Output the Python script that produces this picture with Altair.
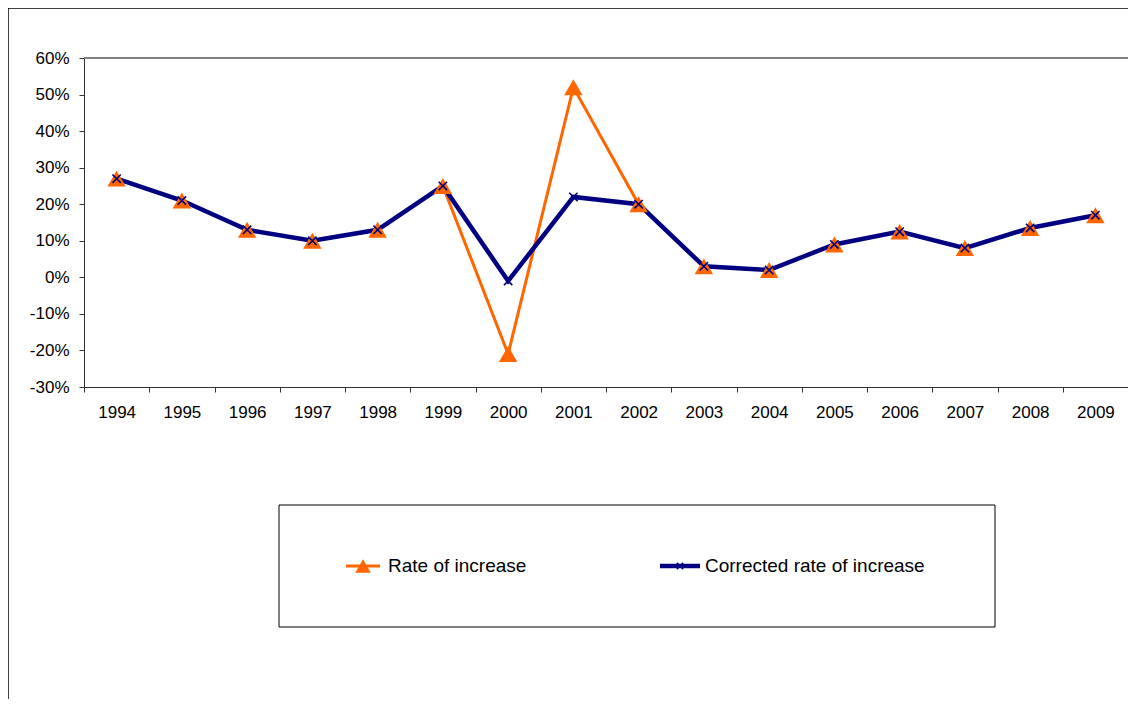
import altair as alt
import pandas as pd

years = [str(y) for y in range(1994, 2010)]
rate = [0.27, 0.21, 0.13, 0.10, 0.13, 0.25, -0.21, 0.52, 0.20, 0.03, 0.02, 0.09, 0.125, 0.08, 0.135, 0.17]
corrected = [0.27, 0.21, 0.13, 0.10, 0.13, 0.25, -0.01, 0.22, 0.20, 0.03, 0.02, 0.09, 0.125, 0.08, 0.135, 0.17]
series_names = ["Rate of increase", "Corrected rate of increase"]
y_ticks = [-0.3, -0.2, -0.1, 0.0, 0.1, 0.2, 0.3, 0.4, 0.5, 0.6]

ORANGE = "#FF6600"
NAVY = "#000080"
FONT = "Liberation Sans"
W, H = 1044, 329
BAND = W / len(years)

df_rate = pd.DataFrame({"year": years, "value": rate, "series": series_names[0]})
df_corr = pd.DataFrame({"year": years, "value": corrected, "series": series_names[1]})

x_enc = alt.X(
    "year:N",
    scale=alt.Scale(type="band", domain=years, paddingInner=0, paddingOuter=0),
    axis=alt.Axis(
        title=None, domainColor="#333333", tickColor="#333333", tickSize=5,
        tickOffset=-BAND / 2, labelOffset=BAND / 2, labelPadding=12,
        labelFont=FONT, labelFontSize=17, labelColor="#000000", labelAngle=0,
        grid=False,
    ),
)
y_scale = alt.Scale(domain=[-0.3, 0.6], nice=False, zero=False)
y_enc = alt.Y(
    "value:Q",
    scale=y_scale,
    axis=alt.Axis(
        title=None, values=y_ticks,
        labelExpr="(datum.value < -0.0001 ? '-' : '') + format(abs(datum.value), '.0%')",
        domainColor="#333333",
        tickColor="#333333", tickSize=5, labelPadding=10, labelFont=FONT,
        labelFontSize=17, labelColor="#000000", grid=False,
    ),
)

CROSS = "M-1,-1L1,1M-1,1L1,-1"

top_line = alt.Chart(pd.DataFrame({"value": [y_ticks[-1]]})).mark_rule(
    color="#808080", strokeWidth=2
).encode(y=y_enc, x=alt.value(0), x2=alt.value(W))

rate_line = alt.Chart(df_rate).mark_line(color=ORANGE, strokeWidth=3).encode(x=x_enc, y=y_enc)
corr_line = alt.Chart(df_corr).mark_line(color=NAVY, strokeWidth=4.5).encode(x=x_enc, y=y_enc)
rate_pts = alt.Chart(df_rate).mark_point(
    shape="triangle-up", filled=True, color=ORANGE, size=340, opacity=1
).encode(x=x_enc, y=y_enc)
corr_pts = alt.Chart(df_corr).mark_point(
    shape=CROSS, filled=False, color=NAVY, size=70, strokeWidth=1.6, opacity=1
).encode(x=x_enc, y=y_enc)

# outer chart border (left and top)
one = pd.DataFrame({"k": [0]})
border_left = alt.Chart(one).mark_rule(color="#000000", strokeWidth=1.5, clip=False).encode(
    x=alt.value(-76), y=alt.value(-50), y2=alt.value(660))
border_top = alt.Chart(one).mark_rule(color="#000000", strokeWidth=1.5, clip=False).encode(
    x=alt.value(-76), x2=alt.value(W), y=alt.value(-50))

# legend box
leg_box = alt.Chart(one).mark_rect(fill="white", stroke="#000000", strokeWidth=1, clip=False).encode(
    x=alt.value(195), x2=alt.value(911), y=alt.value(447), y2=alt.value(569))
leg_df1 = pd.DataFrame({"label": [series_names[0]]})
leg_df2 = pd.DataFrame({"label": [series_names[1]]})
leg_line1 = alt.Chart(leg_df1).mark_rule(color=ORANGE, strokeWidth=3).encode(
    x=alt.value(262), x2=alt.value(296), y=alt.value(508))
leg_sym1 = alt.Chart(leg_df1).mark_point(shape="triangle-up", filled=True, color=ORANGE, size=240, opacity=1).encode(
    x=alt.value(279), y=alt.value(508))
leg_txt1 = alt.Chart(leg_df1).mark_text(align="left", baseline="middle", font=FONT, fontSize=19, color="#000000").encode(
    x=alt.value(304), y=alt.value(508), text="label:N")
leg_line2 = alt.Chart(leg_df2).mark_rule(color=NAVY, strokeWidth=4.5).encode(
    x=alt.value(576), x2=alt.value(616), y=alt.value(508))
leg_sym2 = alt.Chart(leg_df2).mark_point(shape=CROSS, filled=False, color=NAVY, size=40, strokeWidth=1.5, opacity=1).encode(
    x=alt.value(596), y=alt.value(508))
leg_txt2 = alt.Chart(leg_df2).mark_text(align="left", baseline="middle", font=FONT, fontSize=19, color="#000000").encode(
    x=alt.value(621), y=alt.value(508), text="label:N")

chart = alt.layer(
    border_left, border_top, top_line,
    rate_line, corr_line, rate_pts, corr_pts,
    leg_box, leg_line1, leg_sym1, leg_txt1, leg_line2, leg_sym2, leg_txt2,
).properties(
    width=W, height=H,
    autosize=alt.AutoSizeParams(type="none"),
    padding={"left": 76, "top": 50, "right": 0, "bottom": 312},
).configure_view(stroke=None).configure(background="white")

chart.save("out.html", embed_options={"renderer": "svg", "actions": False})
